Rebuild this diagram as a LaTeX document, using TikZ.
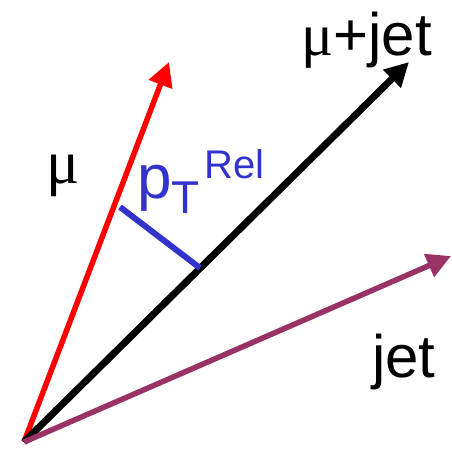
\documentclass[tikz,border=0pt]{standalone}
\usepackage{fontspec}
\setmainfont{Liberation Sans}
\newfontfamily\greekfont{Liberation Serif}
\usetikzlibrary{arrows.meta}
\definecolor{jetpurple}{HTML}{993366}
\definecolor{relblue}{HTML}{3333CC}
\tikzset{
  vec/.style={line width=#1, -{Triangle[length=24pt,width=24pt]}},
  lbl/.style={inner sep=0pt, anchor=base west},
}
\begin{document}
\begin{tikzpicture}[x=1pt,y=-1pt]
\useasboundingbox (0,0) rectangle (452,448);
\coordinate (O) at (24,442);
\coordinate (mu) at (169,62);
\coordinate (mujet) at (409,62);
\coordinate (jet) at (451,256);
\coordinate (relA) at (120,207);
\coordinate (relB) at (200,268);
\draw[vec=5.5pt, red] (O) -- (mu);
\draw[vec=7pt, black] (O) -- (mujet);
\draw[vec=5.5pt, jetpurple] (O) -- (jet);
\draw[line width=6pt, relblue] (relA) -- (relB);
\node[lbl] (lmu) at (46,183) {\fontsize{62}{62}\selectfont\greekfont μ};
\node[lbl] (lmujet) at (301,55) {\fontsize{60}{60}\selectfont{\greekfont μ}+jet};
\node[lbl] (ljet) at (372,377) {\fontsize{60}{60}\selectfont jet};
\node[lbl, text=relblue] (lrel) at (137,198) {\fontsize{62}{62}\selectfont p\raisebox{-15pt}{\fontsize{46}{46}\selectfont T}\hspace{5pt}\raisebox{20pt}{\fontsize{40}{40}\selectfont Rel}};
\end{tikzpicture}
\end{document}
